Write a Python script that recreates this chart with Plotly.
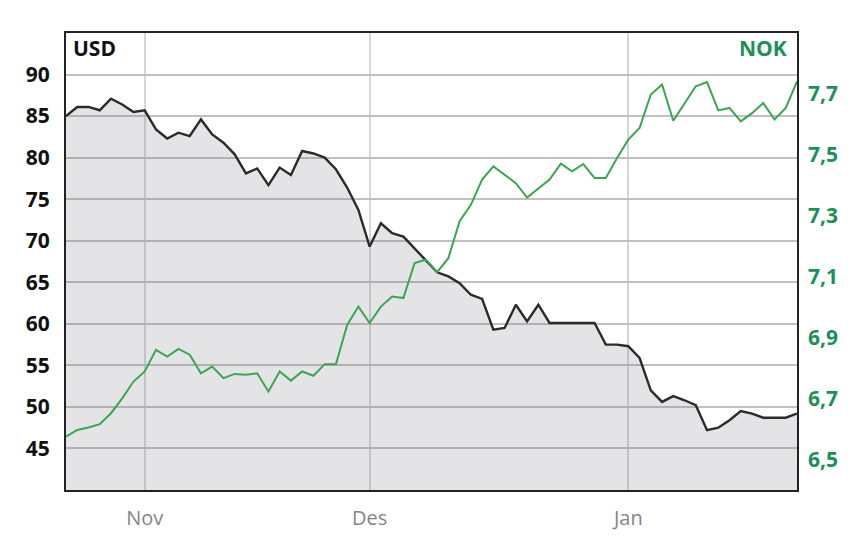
import pandas as pd
import plotly.graph_objects as go

# trading days, 23 Oct 2014 - 22 Jan 2015
dates = [d.strftime("%Y-%m-%d") for d in pd.bdate_range("2014-10-23", "2015-01-22")]

usd = [85.0, 86.1, 86.1, 85.7, 87.1, 86.4, 85.5, 85.7, 83.4, 82.3,
       83.0, 82.6, 84.6, 82.8, 81.8, 80.4, 78.1, 78.7, 76.7, 78.8,
       77.9, 80.8, 80.5, 80.0, 78.6, 76.4, 73.7, 69.3, 72.1, 70.9,
       70.5, 69.1, 67.7, 66.2, 65.7, 64.9, 63.5, 63.0, 59.3, 59.5,
       62.3, 60.3, 62.3, 60.1, 60.1, 60.1, 60.1, 60.1, 57.5, 57.5,
       57.3, 55.9, 52.0, 50.6, 51.3, 50.8, 50.2, 47.2, 47.5, 48.4,
       49.5, 49.2, 48.7, 48.7, 48.7, 49.2]

nok = [6.575, 6.597, 6.605, 6.616, 6.652, 6.701, 6.756, 6.789, 6.860, 6.838,
       6.863, 6.844, 6.783, 6.805, 6.767, 6.781, 6.778, 6.783, 6.723, 6.789,
       6.759, 6.789, 6.775, 6.813, 6.813, 6.942, 7.002, 6.948, 7.002, 7.035,
       7.030, 7.145, 7.156, 7.115, 7.161, 7.282, 7.336, 7.419, 7.462, 7.435,
       7.407, 7.360, 7.391, 7.419, 7.471, 7.446, 7.470, 7.424, 7.424, 7.490,
       7.550, 7.588, 7.698, 7.731, 7.612, 7.670, 7.725, 7.739, 7.646, 7.654,
       7.610, 7.637, 7.670, 7.616, 7.654, 7.741]

month_ticks = ["2014-11-03", "2014-12-01", "2015-01-01"]
month_labels = ["Nov", "Des", "Jan"]
usd_ticks = [45, 50, 55, 60, 65, 70, 75, 80, 85, 90]
nok_ticks = [6.5, 6.7, 6.9, 7.1, 7.3, 7.5, 7.7]

GREEN_TEXT = "#1b9058"
GREEN_LINE = "#3aa650"
FONT = "Open Sans"

fig = go.Figure()
fig.add_trace(go.Scatter(
    x=dates, y=usd, mode="lines", fill="tozeroy",
    fillcolor="rgba(120,120,135,0.2)",
    line=dict(color="#2b2b2b", width=2.4), name="USD",
))
fig.add_trace(go.Scatter(
    x=dates, y=nok, mode="lines", yaxis="y2",
    line=dict(color=GREEN_LINE, width=2), name="NOK",
))

# the page body adds 8px, margins are set so the plot box lands at 66..797 x 33..490
fig.update_layout(
    width=867, height=546,
    margin=dict(l=58, r=78, t=25, b=64),
    paper_bgcolor="white", plot_bgcolor="white",
    separators=",.",
    showlegend=False,
    font=dict(family=FONT),
    xaxis=dict(
        type="category", range=[0, len(dates) - 1],
        tickvals=month_ticks, ticktext=month_labels,
        showgrid=True, gridcolor="#d6d6d6", gridwidth=1.5,
        tickfont=dict(size=20, color="#858585"),
        ticklabelstandoff=9, ticks="",
        showline=True, mirror=True, linecolor="#222222", linewidth=2,
        zeroline=False,
    ),
    yaxis=dict(
        range=[40, 95], tickvals=usd_ticks,
        showgrid=True, gridcolor="#c0c0c0", gridwidth=1.6,
        tickfont=dict(size=21, color="#111111", weight="bold"),
        ticklabelstandoff=10, ticks="",
        showline=True, mirror=True, linecolor="#222222", linewidth=2,
        zeroline=False,
    ),
    yaxis2=dict(
        overlaying="y", side="right",
        range=[6.4, 7.9], tickvals=nok_ticks, tickformat=".1f",
        showgrid=False, zeroline=False,
        tickfont=dict(size=21, color=GREEN_TEXT, weight="bold"),
        ticklabelstandoff=10, ticks="",
    ),
    annotations=[
        dict(text="USD", xref="paper", yref="paper", x=0.0, y=1.0,
             xanchor="left", yanchor="top", xshift=5, yshift=1, showarrow=False,
             font=dict(size=21, color="#111111", family=FONT, weight="bold")),
        dict(text="NOK", xref="paper", yref="paper", x=1.0, y=1.0,
             xanchor="right", yanchor="top", xshift=-8, yshift=1, showarrow=False,
             font=dict(size=21, color=GREEN_TEXT, family=FONT, weight="bold")),
    ],
)

fig.write_html("out.html")
